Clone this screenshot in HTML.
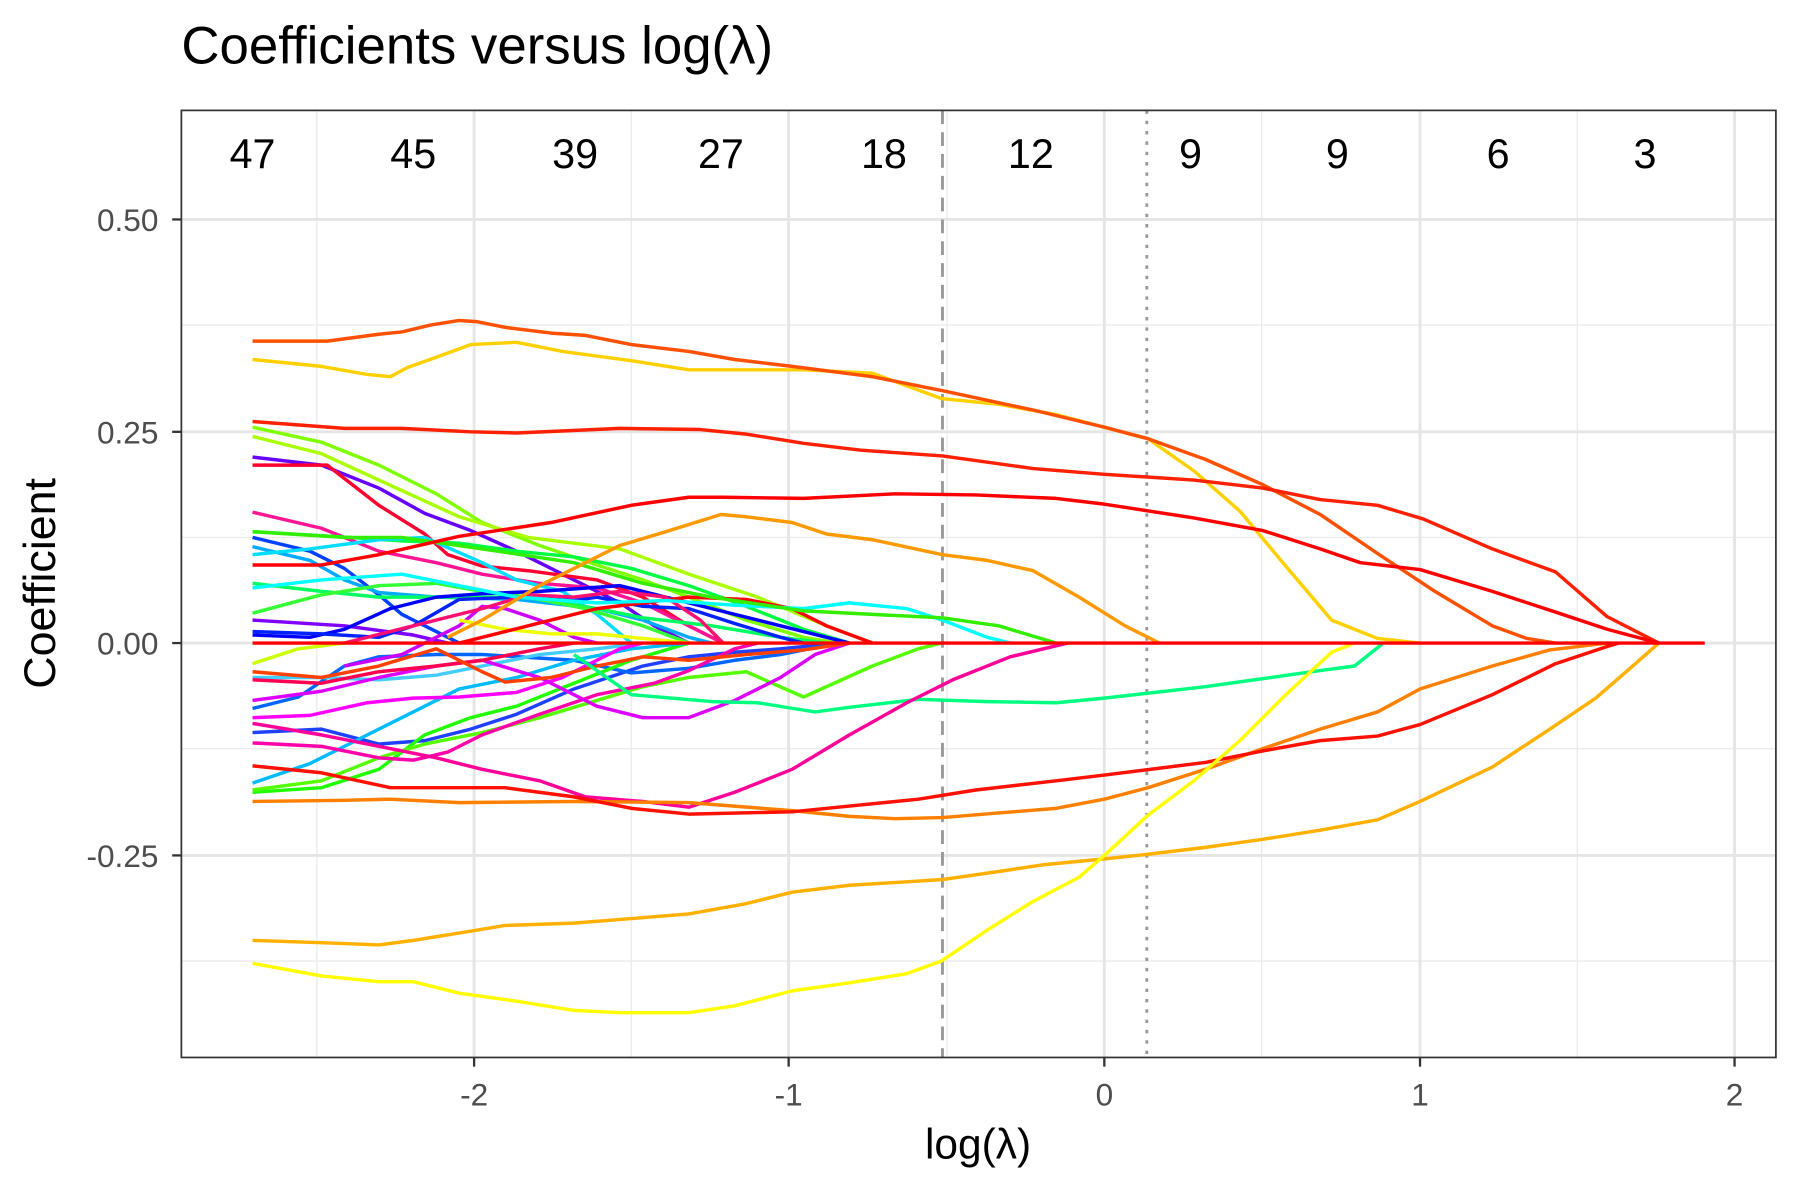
<!DOCTYPE html>
<html><head><meta charset="utf-8"><style>
html,body{margin:0;padding:0;background:#fff;}
svg{display:block;}
text{font-family:"Liberation Sans",Arial,sans-serif;}
polyline{fill:none;stroke-width:3;stroke-linejoin:round;}
</style></head><body>
<svg width="1800" height="1200" viewBox="0 0 1568 1045" xmlns="http://www.w3.org/2000/svg">
<rect width="1568" height="1045" fill="#fff"/>
<text x="158" y="55" font-size="46" fill="#000">Coefficients versus log(λ)</text>
<g stroke="#ebebeb" stroke-width="1.2">
<line x1="276" y1="96" x2="276" y2="921"/><line x1="550" y1="96" x2="550" y2="921"/><line x1="825" y1="96" x2="825" y2="921"/><line x1="1099" y1="96" x2="1099" y2="921"/><line x1="1374" y1="96" x2="1374" y2="921"/>
<line x1="158" y1="283" x2="1547" y2="283"/><line x1="158" y1="468" x2="1547" y2="468"/><line x1="158" y1="652" x2="1547" y2="652"/><line x1="158" y1="837" x2="1547" y2="837"/>
</g>
<g stroke="#e5e5e5" stroke-width="2.5">
<line x1="413" y1="96" x2="413" y2="921"/><line x1="687" y1="96" x2="687" y2="921"/><line x1="962" y1="96" x2="962" y2="921"/><line x1="1237" y1="96" x2="1237" y2="921"/><line x1="1511" y1="96" x2="1511" y2="921"/>
<line x1="158" y1="191" x2="1547" y2="191"/><line x1="158" y1="376" x2="1547" y2="376"/><line x1="158" y1="560" x2="1547" y2="560"/><line x1="158" y1="745" x2="1547" y2="745"/>
</g>
<line x1="821" y1="96" x2="821" y2="921" stroke="#999" stroke-width="2.5" stroke-dasharray="12,7"/>
<line x1="999" y1="96" x2="999" y2="921" stroke="#999" stroke-width="2.5" stroke-dasharray="3,6"/>
<g font-size="36" text-anchor="middle" fill="#000">
<text x="220" y="146">47</text><text x="360" y="146">45</text><text x="501" y="146">39</text><text x="628" y="146">27</text><text x="770" y="146">18</text><text x="898" y="146">12</text><text x="1037" y="146">9</text><text x="1165" y="146">9</text><text x="1305" y="146">6</text><text x="1433" y="146">3</text>
</g>
<polyline stroke="#80FF00" points="220,372 280,385 330,405 380,430 420,455 470,475 520,492 560,505 600,520 650,540 700,555 730,560"/>
<polyline stroke="#AAFF00" points="220,380 280,395 330,418 400,450 460,468 540,478 600,500 660,520 720,545 760,560"/>
<polyline stroke="#6600FF" points="220,398 280,405 330,425 370,447 410,462 450,480 500,505 540,525 570,545 600,560"/>
<polyline stroke="#FF0030" points="220,405 285,405 330,440 370,465 390,483 420,493 460,497 520,505 560,520 600,545 630,560"/>
<polyline stroke="#FF1493" points="220,446 280,460 330,480 380,490 420,500 470,508 520,512 560,525 600,545 630,560"/>
<polyline stroke="#00FF40" points="220,463 290,467 350,471 400,473 450,480 500,485 550,495 600,510 650,528 700,548 740,560"/>
<polyline stroke="#0040FF" points="220,468 270,480 300,495 330,518 350,535 380,550 400,560"/>
<polyline stroke="#00AAFF" points="220,476 270,488 300,505 330,516 380,520 450,522 520,530 560,540 600,555 620,560"/>
<polyline stroke="#00DDFF" points="220,483 270,478 330,470 370,468 420,490 450,505 490,515 520,535 550,560"/>
<polyline stroke="#00FF60" points="220,508 280,515 330,520 400,520 460,520 520,530 560,538 620,545 680,555 720,560"/>
<polyline stroke="#33FF33" points="220,534 280,518 330,510 380,508 420,515 460,520 510,530 560,545 600,560"/>
<polyline stroke="#8000FF" points="220,540 300,545 360,553 390,560"/>
<polyline stroke="#0000FF" points="220,553 270,555 300,548 340,530 380,520 420,517 470,515 540,510 580,520 620,530 660,540 700,550 740,560"/>
<polyline stroke="#2040FF" points="220,638 280,635 330,648 370,645 410,635 450,622 500,600 530,590 560,580 600,572 640,568 680,565 720,561 740,560"/>
<polyline stroke="#0066FF" points="220,617 260,607 300,580 330,572 380,570 420,570 500,575 550,586 600,582 640,575 680,570 720,562 740,560"/>
<polyline stroke="#22FF00" points="220,690 280,686 330,670 370,640 410,625 450,615 500,595 550,575 600,560"/>
<polyline stroke="#55FF00" points="220,688 280,680 330,660 370,648 420,638 470,625 520,610 560,598 600,590 650,585 700,607 760,580 800,565 820,560"/>
<polyline stroke="#00BBFF" points="220,682 270,665 310,645 350,625 400,600 450,590 500,575 550,565 600,560"/>
<polyline stroke="#44CCFF" points="220,590 280,590 330,592 380,588 420,580 470,570 520,565 560,560"/>
<polyline stroke="#FF00AA" points="220,647 280,650 330,660 360,662 390,655 420,640 470,622 520,605 570,595 600,584 640,565 660,560"/>
<polyline stroke="#FF00FF" points="220,625 270,623 320,612 360,608 400,607 450,603 490,590 520,575 540,565 560,560"/>
<polyline stroke="#DD00FF" points="220,610 280,602 330,590 380,580 420,575 470,590 520,615 560,625 600,625 640,610 680,590 710,570 740,560"/>
<polyline stroke="#CC00FF" points="300,580 350,570 400,545 420,528 440,530 470,540 500,555 520,560"/>
<polyline stroke="#FF0050" points="220,592 280,595 330,585 380,580 420,575 470,565 500,560"/>
<polyline stroke="#FF4000" points="220,585 280,590 330,580 380,565 420,585 440,594 480,590 520,580 560,572 600,575 650,570 700,566 740,560"/>
<polyline stroke="#CCFF00" points="220,578 260,565 300,560"/>
<polyline stroke="#EEFF00" points="400,540 440,548 480,552 520,552 560,556 600,560"/>
<polyline stroke="#0022FF" points="220,550 280,552 330,555 360,545 400,522 450,520 500,523 520,520 560,528 600,530 640,543 680,555 700,560"/>
<polyline stroke="#FF0000" points="400,560 440,550 480,540 520,530 560,525 600,520 650,522 690,530 720,545 760,560"/>
<polyline stroke="#FF1070" points="300,560 340,550 380,540 420,530 460,518 500,520 540,515 580,520 610,540 630,560"/>
<polyline stroke="#00FFFF" points="220,512 280,505 350,500 400,510 450,520 520,525 580,523 640,527 700,530 740,525 790,530 821,540 860,555 880,560"/>
<polyline stroke="#33EE00" points="220,463 300,468 350,468 420,478 500,490 560,508 620,520 700,532 780,536 821,538 870,545 920,560"/>
<polyline stroke="#00FF80" points="500,570 550,605 620,611 660,612 710,620 740,616 800,609 860,611 920,612 962,608 1050,598 1100,591 1150,584 1180,580 1205,560"/>
<polyline stroke="#FF0099" points="220,630 280,640 330,650 380,660 420,670 470,680 510,694 560,698 600,703 640,690 690,670 740,640 790,612 830,592 880,572 930,560"/>
<polyline stroke="#FF9900" points="390,555 420,540 470,510 500,495 540,475 580,463 628,448 650,450 690,455 720,465 760,470 821,483 860,488 900,497 940,520 980,545 1010,560"/>
<polyline stroke="#FF8000" points="220,698 300,697 340,696 400,699 500,698 600,699 690,706 740,711 780,713 821,712 870,708 920,704 962,696 1000,686 1050,670 1100,652 1150,635 1200,620 1237,600 1300,580 1350,566 1400,560"/>
<polyline stroke="#FF1000" points="220,667 280,673 340,686 400,686 440,686 500,694 550,704 600,709 690,707 740,702 800,696 850,688 920,680 962,675 1050,664 1100,654 1150,645 1200,641 1237,631 1300,605 1355,578 1400,563 1410,560"/>
<polyline stroke="#FFB000" points="220,819 280,821 330,823 360,819 410,811 440,806 500,804 550,800 600,796 650,787 690,777 740,771 790,768 821,766 870,759 910,753 962,748 1000,744 1050,738 1100,731 1150,723 1200,714 1237,698 1300,668 1350,635 1390,608 1420,582 1445,560"/>
<polyline stroke="#FFFF00" points="220,839 280,850 330,855 360,855 400,865 450,872 500,880 540,882 600,882 640,876 690,863 740,856 790,848 820,837 860,810 900,785 940,764 962,745 1000,710 1040,680 1080,645 1120,605 1160,568 1180,560"/>
<polyline stroke="#FFD000" points="220,313 280,319 320,326 340,328 355,320 380,311 410,300 450,298 490,306 550,314 600,322 650,322 700,322 760,325 820,347 870,352 920,361 962,372 1000,382 1040,410 1080,445 1120,493 1160,540 1200,556 1237,560"/>
<polyline stroke="#FF5000" points="220,297 285,297 330,291 350,289 375,283 400,279 415,280 440,285 480,290 510,292 550,300 600,306 640,313 690,319 760,328 820,340 900,357 962,372 1000,382 1050,400 1100,422 1150,448 1200,482 1250,515 1300,545 1330,556 1355,560"/>
<polyline stroke="#FF2000" points="220,367 300,373 350,373 410,376 450,377 540,373 610,374 650,378 700,386 750,392 821,397 900,408 962,413 1040,418 1100,425 1150,435 1200,440 1240,452 1300,478 1355,498 1400,537 1445,560"/>
<polyline stroke="#FF0000" points="220,492 280,492 330,483 400,467 480,455 550,440 600,433 630,433 700,434 780,430 850,431 920,434 962,439 1040,451 1100,462 1150,478 1185,490 1237,496 1300,515 1355,533 1400,548 1445,560"/>
<polyline stroke="#FF0000" points="220,560 1485,560"/>
<rect x="158" y="96" width="1389" height="825" fill="none" stroke="#333" stroke-width="1.5"/>
<g stroke="#333" stroke-width="2">
<line x1="150" y1="191" x2="158" y2="191"/><line x1="150" y1="376" x2="158" y2="376"/><line x1="150" y1="560" x2="158" y2="560"/><line x1="150" y1="745" x2="158" y2="745"/>
<line x1="413" y1="921" x2="413" y2="929"/><line x1="687" y1="921" x2="687" y2="929"/><line x1="962" y1="921" x2="962" y2="929"/><line x1="1237" y1="921" x2="1237" y2="929"/><line x1="1511" y1="921" x2="1511" y2="929"/>
</g>
<g font-size="27.5" fill="#4d4d4d" text-anchor="end">
<text x="138" y="201">0.50</text><text x="138" y="386">0.25</text><text x="138" y="570">0.00</text><text x="138" y="755">-0.25</text>
</g>
<g font-size="27.5" fill="#4d4d4d" text-anchor="middle">
<text x="413" y="963">-2</text><text x="687" y="963">-1</text><text x="962" y="963">0</text><text x="1237" y="963">1</text><text x="1511" y="963">2</text>
</g>
<text x="852" y="1009" font-size="37" text-anchor="middle" fill="#000">log(λ)</text>
<text transform="translate(48,508) rotate(-90)" font-size="39" text-anchor="middle" fill="#000">Coefficient</text>
</svg>
</body></html>
